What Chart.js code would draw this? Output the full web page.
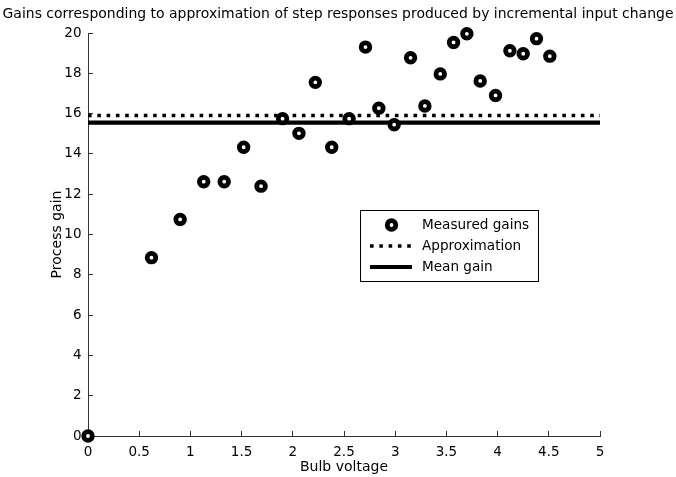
<!DOCTYPE html>
<html>
<head>
<meta charset="utf-8">
<script src="https://cdn.jsdelivr.net/npm/chart.js@4/dist/chart.umd.min.js"></script>
<style>
  html, body { margin: 0; padding: 0; background: #fff; }
  canvas { display: block; }
</style>
</head>
<body>
<canvas id="c" width="676" height="477"></canvas>
<script>
// ---- data ----
const titleText = "Gains corresponding to approximation of step responses produced by incremental input change";
const xLabel = "Bulb voltage";
const yLabel = "Process gain";
const voltage = [0, 0.62, 0.90, 1.13, 1.33, 1.52, 1.69, 1.90, 2.06, 2.22, 2.38, 2.55, 2.71, 2.84, 2.99, 3.15, 3.29, 3.44, 3.57, 3.70, 3.83, 3.98, 4.12, 4.25, 4.38, 4.51];
const gain    = [0, 8.85, 10.75, 12.62, 12.62, 14.33, 12.40, 15.75, 15.02, 17.55, 14.33, 15.75, 19.30, 16.27, 15.45, 18.77, 16.38, 17.97, 19.53, 19.96, 17.62, 16.90, 19.12, 18.97, 19.72, 18.85];
const lineX = [0, 5];
const approxGain = 15.9;
const meanGain = 15.55;
const seriesNames = ["Measured gains", "Approximation", "Mean gain"];
const xTickStep = 0.5, yTickStep = 2;
const xRange = [0, 5], yRange = [0, 20];

const FONT = "'DejaVu Sans', sans-serif";
const TITLE_WIDTH = 671;

const measured = voltage.map((v, i) => ({ x: v, y: gain[i] }));
const approxLine = lineX.map(v => ({ x: v, y: approxGain }));
const meanLine = lineX.map(v => ({ x: v, y: meanGain }));

const titlePlugin = {
  id: 'wideTitle',
  afterDraw(chart) {
    const ctx = chart.ctx;
    ctx.save();
    ctx.font = "13px " + FONT;
    const w13 = ctx.measureText(titleText).width;
    const size = 13 * TITLE_WIDTH / w13;
    ctx.font = size.toFixed(2) + "px " + FONT;
    ctx.fillStyle = '#000';
    ctx.textAlign = 'center';
    ctx.textBaseline = 'middle';
    ctx.fillText(titleText, chart.width / 2, 14.5);
    ctx.restore();
  }
};

const legendPlugin = {
  id: 'boxLegend',
  afterDatasetsDraw(chart) {
    const ctx = chart.ctx;
    const ca = chart.chartArea;
    const bx = ca.left + 272, by = ca.top + 177, bw = 178, bh = 71;
    ctx.save();
    ctx.fillStyle = '#fff';
    ctx.fillRect(bx, by, bw, bh);
    ctx.strokeStyle = '#000';
    ctx.lineWidth = 1;
    ctx.strokeRect(bx + 0.5, by + 0.5, bw, bh);
    const rows = [by + 15, by + 36, by + 57];
    const ds = chart.data.datasets;
    // marker row
    ctx.beginPath();
    ctx.arc(bx + 31.5, rows[0], ds[0].pointRadius, 0, Math.PI * 2);
    ctx.fillStyle = '#fff';
    ctx.fill();
    ctx.lineWidth = ds[0].pointBorderWidth;
    ctx.strokeStyle = '#000';
    ctx.stroke();
    // dotted row
    ctx.beginPath();
    ctx.setLineDash(ds[1].borderDash);
    ctx.lineWidth = ds[1].borderWidth;
    ctx.moveTo(bx + 10, rows[1]);
    ctx.lineTo(bx + 52, rows[1]);
    ctx.stroke();
    // solid row
    ctx.beginPath();
    ctx.setLineDash([]);
    ctx.lineWidth = ds[2].borderWidth;
    ctx.moveTo(bx + 10, rows[2]);
    ctx.lineTo(bx + 52, rows[2]);
    ctx.stroke();
    ctx.fillStyle = '#000';
    ctx.font = "13.6px " + FONT;
    ctx.textBaseline = 'middle';
    ctx.textAlign = 'left';
    for (let i = 0; i < 3; i++) ctx.fillText(ds[i].label, bx + 62, rows[i]);
    ctx.restore();
  }
};

const tickFmt = v => String(Number(Number(v).toFixed(2)));

new Chart(document.getElementById('c'), {
  type: 'scatter',
  data: {
    datasets: [
      {
        label: seriesNames[0],
        data: measured,
        showLine: false,
        pointRadius: 4.3,
        pointHoverRadius: 4.3,
        pointBorderWidth: 4.8,
        pointBackgroundColor: '#fff',
        pointBorderColor: '#000',
        clip: false,
        order: 0
      },
      {
        label: seriesNames[1],
        data: approxLine,
        showLine: true,
        borderColor: '#000',
        borderWidth: 3.5,
        borderDash: [3.6, 5.7],
        pointRadius: 0,
        order: 1
      },
      {
        label: seriesNames[2],
        data: meanLine,
        showLine: true,
        borderColor: '#000',
        borderWidth: 4.2,
        pointRadius: 0,
        order: 2
      }
    ]
  },
  options: {
    responsive: false,
    animation: false,
    devicePixelRatio: 1,
    layout: { padding: { left: 44, right: 76, top: 33, bottom: 0 } },
    plugins: {
      legend: { display: false },
      tooltip: { enabled: false },
      title: { display: false }
    },
    scales: {
      x: {
        type: 'linear',
        min: xRange[0], max: xRange[1],
        afterFit(s) { s.height = 41; },
        ticks: { stepSize: xTickStep, color: '#000', font: { family: FONT, size: 13.5 }, padding: 13, maxRotation: 0, callback: tickFmt },
        grid: { drawOnChartArea: false, drawTicks: true, tickLength: -5, color: '#333', lineWidth: 1 },
        border: { display: true, color: '#333', width: 1 },
        title: { display: true, text: xLabel, color: '#000', font: { family: FONT, size: 14 }, padding: { top: 0, bottom: 1 } }
      },
      y: {
        type: 'linear',
        min: yRange[0], max: yRange[1],
        afterFit(s) { s.width = 44; },
        ticks: { stepSize: yTickStep, color: '#000', font: { family: FONT, size: 13.5 }, padding: 11.5, callback: tickFmt },
        grid: { drawOnChartArea: false, drawTicks: true, tickLength: -5, color: '#333', lineWidth: 1 },
        border: { display: true, color: '#333', width: 1 },
        title: { display: true, text: yLabel, color: '#000', font: { family: FONT, size: 14 }, padding: { top: 5, bottom: 0 } }
      }
    }
  },
  plugins: [legendPlugin, titlePlugin]
});
</script>
</body>
</html>
